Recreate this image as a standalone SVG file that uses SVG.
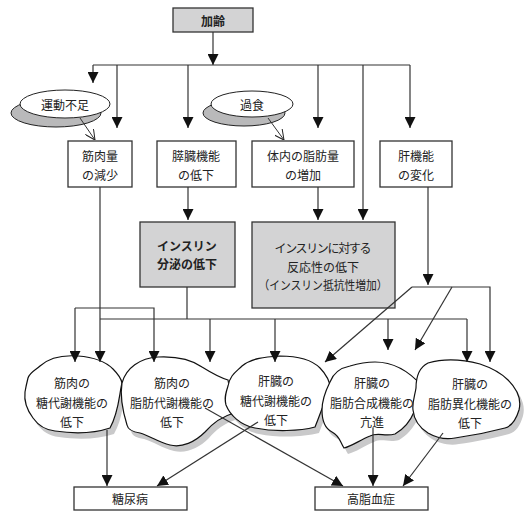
<svg xmlns="http://www.w3.org/2000/svg" width="525" height="511" viewBox="0 0 525 511">
<defs>
<marker id="ah" markerUnits="userSpaceOnUse" markerWidth="11" markerHeight="11" refX="10" refY="5" orient="auto" viewBox="0 0 10 10">
<path d="M0,0 L10,5 L0,10 z" fill="#111"/>
</marker>
<marker id="oh" markerUnits="userSpaceOnUse" markerWidth="10" markerHeight="10" refX="10" refY="5" orient="auto" viewBox="0 0 10 10">
<path d="M0,0 L10,5 L0,10" fill="none" stroke="#222" stroke-width="1"/>
</marker>
<path id="c1" d="M28,378 C30,372 36,370 40,366 C50,357 65,355 78,356 C92,357 104,360 113,369 C118,374 121,378 122,383 C119,395 119,412 110,428 C95,433 75,434 55,431 C45,430 38,425 33,418 C27,410 24,400 25,392 C26,386 27,382 28,378 Z"/>
<path id="c2" d="M122,383 C126,368 140,358 158,357 C178,356 192,360 202,367 C210,372 218,377 228,380 L234,413 C220,417 212,424 205,432 C195,442 182,448 170,445 C158,442 150,436 140,433 C133,432 128,430 127,425 C123,412 120,395 122,383 Z"/>
<path id="c3" d="M228,386 C230,375 236,372 242,366 C252,358 265,357 280,356 C297,356 312,360 320,368 C326,374 330,382 331,390 C325,398 322,410 315,427 C300,431 275,432 255,428 C240,425 230,415 226,405 C224,398 226,392 228,386 Z"/>
<path id="c4" d="M330,382 C333,374 340,368 350,366 C360,363 368,362 375,362 C392,362 408,370 422,386 C418,395 416,405 414,412 C410,422 402,430 395,434 C385,437 378,432 370,436 C360,440 352,446 344,448 C340,442 340,436 332,432 C324,428 322,420 322,410 C322,400 326,390 330,382 Z"/>
<path id="c5" d="M416,388 C416,378 418,368 428,363 C445,358 465,360 480,364 C492,368 500,372 508,380 C516,388 522,398 519,410 C516,420 512,426 505,428 C490,432 470,436 455,438 C445,440 435,437 428,433 C420,428 414,420 413,410 C412,402 415,395 416,388 Z"/>
</defs>
<style>
text{font-family:"Noto Sans CJK JP","Noto Sans",sans-serif;font-size:12px;fill:#222;text-anchor:middle;dominant-baseline:central}
.b{font-weight:bold}
.box{fill:#fff;stroke:#333;stroke-width:1.3}
.gbox{fill:#d3d3d4;stroke:#333;stroke-width:1.3}
.ln{fill:none;stroke:#333;stroke-width:1.2}
.ar{fill:none;stroke:#333;stroke-width:1.2;marker-end:url(#ah)}
.oa{fill:none;stroke:#333;stroke-width:1;marker-end:url(#oh)}
.cloud{fill:#fff;stroke:#111;stroke-width:1.2}
.shadow{fill:#c9c9ca;stroke:none}
.esh{fill:#b9b9ba;stroke:#222;stroke-width:1}
.ell{fill:#fff;stroke:#222;stroke-width:1}
</style>

<g id="aging"><rect class="gbox" x="173" y="8" width="80" height="24"/><text class="b" x="213" y="20">加齢</text></g>

<g id="undoubusoku"><ellipse class="esh" cx="56" cy="113" rx="45" ry="14"/><ellipse class="ell" cx="65" cy="104" rx="45" ry="14"/><text x="65" y="104">運動不足</text></g>
<g id="kashoku"><ellipse class="esh" cx="244" cy="113" rx="41" ry="13"/><ellipse class="ell" cx="252" cy="104" rx="41" ry="13"/><text x="252" y="104">過食</text></g>

<g id="kinnikuryo"><rect class="box" x="68" y="141" width="64" height="46"/><text x="100" y="155">筋肉量</text><text x="100" y="174">の減少</text></g>
<g id="suizou"><rect class="box" x="157" y="141" width="79" height="46"/><text x="196" y="155">膵臓機能</text><text x="196" y="174">の低下</text></g>
<g id="shibouryo"><rect class="box" x="252" y="141" width="102" height="46"/><text x="303" y="155">体内の脂肪量</text><text x="303" y="174">の増加</text></g>
<g id="kankinou"><rect class="box" x="380" y="141" width="72" height="46"/><text x="416" y="155">肝機能</text><text x="416" y="174">の変化</text></g>

<g id="bunpitsu"><rect class="gbox" x="140" y="222" width="95" height="65"/><text class="b" x="187" y="245">インスリン</text><text class="b" x="187" y="263">分泌の低下</text></g>
<g id="teikousei"><rect class="gbox" x="252" y="222" width="143" height="86"/><text x="323" y="247" textLength="97" lengthAdjust="spacing">インスリンに対する</text><text x="323" y="266">反応性の低下</text><text x="323" y="284" textLength="129" lengthAdjust="spacingAndGlyphs">（インスリン抵抗性増加）</text></g>

<g id="shadows">
<use class="shadow" href="#c1" transform="translate(4,6)"/>
<use class="shadow" href="#c2" transform="translate(4,6)"/>
<use class="shadow" href="#c3" transform="translate(4,6)"/>
<use class="shadow" href="#c4" transform="translate(4,6)"/>
<use class="shadow" href="#c5" transform="translate(4,6)"/>
</g>

<g id="cloud1"><use class="cloud" href="#c1"/><text x="72" y="382">筋肉の</text><text x="72" y="402">糖代謝機能の</text><text x="72" y="421">低下</text></g>
<g id="cloud2"><use class="cloud" href="#c2"/><text x="172" y="382">筋肉の</text><text x="172" y="402">脂肪代謝機能の</text><text x="172" y="421">低下</text></g>
<g id="cloud3"><use class="cloud" href="#c3"/><text x="276" y="380">肝臓の</text><text x="276" y="400">糖代謝機能の</text><text x="276" y="419">低下</text></g>
<g id="cloud4"><use class="cloud" href="#c4"/><text x="372" y="382">肝臓の</text><text x="372" y="402">脂肪合成機能の</text><text x="372" y="421">亢進</text></g>
<g id="cloud5"><use class="cloud" href="#c5"/><text x="470" y="383">肝臓の</text><text x="470" y="403">脂肪異化機能の</text><text x="470" y="422">低下</text></g>

<g id="tounyoubyou"><rect class="box" x="74" y="487" width="113" height="23"/><text x="130" y="498">糖尿病</text></g>
<g id="koushikesshou"><rect class="box" x="315" y="487" width="113" height="23"/><text x="371" y="498">高脂血症</text></g>

<g id="connectors">
<path class="ar" d="M213,32 V65"/>
<path class="ln" d="M93,65 H410"/>
<path class="ar" d="M93,65 V83"/>
<path class="ar" d="M117,65 V128"/>
<path class="ar" d="M188,65 V128"/>
<path class="ar" d="M318,65 V128"/>
<path class="ar" d="M363,65 V220"/>
<path class="ar" d="M410,65 V128"/>
<path class="oa" d="M80,118 L95,140"/>
<path class="oa" d="M268,118 L284,140"/>
<path class="ar" d="M188,187 V220"/>
<path class="ar" d="M318,187 V220"/>
<path class="ar" d="M100,187 V362"/>
<path class="ar" d="M75,308 V362"/>
<path class="ar" d="M75,308 H154 V362"/>
<path class="ln" d="M187,287 V319"/>
<path class="ln" d="M100,319 H467"/>
<path class="ar" d="M210,319 V362"/>
<path class="ar" d="M275,319 V362"/>
<path class="ar" d="M388,319 V350"/>
<path class="ar" d="M467,319 V362"/>
<path class="ar" d="M428,187 V285"/>
<path class="ar" d="M412,287 H490 V362"/>
<path class="ar" d="M412,287 L325,362"/>
<path class="ar" d="M452,287 L415,350"/>
<path class="ar" d="M107,430 V486"/>
<path class="ar" d="M258,422 L157,486"/>
<path class="ar" d="M205,408 L343,486"/>
<path class="ar" d="M373,428 V486"/>
<path class="ar" d="M443,433 L403,486"/>
</g>
</svg>
